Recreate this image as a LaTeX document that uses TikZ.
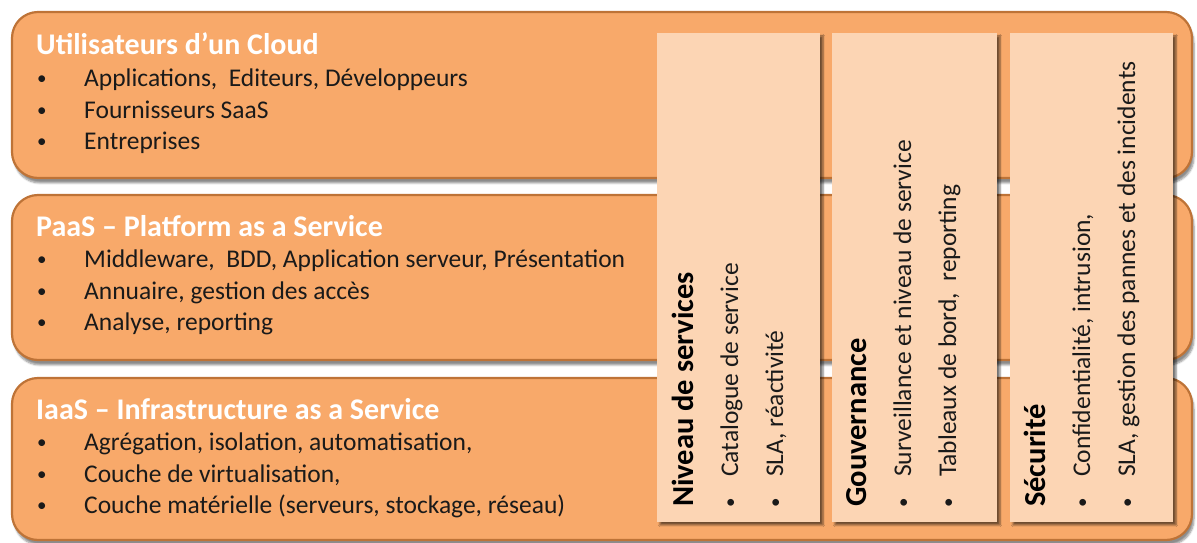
\documentclass[tikz,border=0pt]{standalone}
\usepackage{fontspec}
\setmainfont{Carlito}
\usetikzlibrary{shadows.blur}
\definecolor{bandfill}{HTML}{F8A96A}
\definecolor{bandline}{HTML}{BE7337}
\definecolor{panelfill}{HTML}{FCD5B4}
\definecolor{itemtext}{HTML}{1A1A1A}
\tikzset{
  band/.style={draw=bandline, line width=2.2pt, fill=bandfill, rounded corners=26pt,
    blur shadow={shadow xshift=2pt, shadow yshift=-5pt, shadow blur steps=6, shadow opacity=45}},
  panel/.style={fill=panelfill, draw=none,
    blur shadow={shadow xshift=3pt, shadow yshift=-3pt, shadow blur steps=4, shadow opacity=55}},
  bandtitle/.style={anchor=base west, inner sep=0pt, text=white, font=\fontsize{30}{34}\selectfont\bfseries},
  item/.style={anchor=base west, inner sep=0pt, text=itemtext, font=\fontsize{25.5}{29}\selectfont},
  dot/.style={anchor=base west, inner sep=0pt, text=itemtext, font=\fontsize{19}{22}\selectfont},
  ptitle/.style={anchor=base west, inner sep=0pt, rotate=90, text=black, font=\fontsize{30.5}{34}\selectfont\bfseries},
  pitem/.style={anchor=base west, inner sep=0pt, rotate=90, text=itemtext, font=\fontsize{25.5}{29}\selectfont},
  pdot/.style={dot, rotate=90},
}
\begin{document}
\begin{tikzpicture}[x=1pt,y=1pt]
\useasboundingbox (0,0) rectangle (1197,543);

% three horizontal layers
\path[band] (12,365) rectangle (1192,531);
\path[band] (12,183) rectangle (1192,348);
\path[band] (12,3) rectangle (1192,165);

% layer 1
\node[bandtitle] (t1) at (36,488) {Utilisateurs d’un Cloud};
\node[dot] (b11) at (37,458) {•};
\node[item] (i11) at (84,456) {Applications,\hspace{0.45em}Editeurs, Développeurs};
\node[dot] (b12) at (37,426) {•};
\node[item] (i12) at (84,424) {Fournisseurs SaaS};
\node[dot] (b13) at (37,395) {•};
\node[item] (i13) at (84,393) {Entreprises};

% layer 2
\node[bandtitle] (t2) at (36,306) {PaaS – Platform as a Service};
\node[dot] (b21) at (37,277) {•};
\node[item] (i21) at (84,275) {Middleware,\hspace{0.45em}BDD, Application serveur, Présentation};
\node[dot] (b22) at (37,245) {•};
\node[item] (i22) at (84,243) {Annuaire, gestion des accès};
\node[dot] (b23) at (37,214) {•};
\node[item] (i23) at (84,212) {Analyse, reporting};

% layer 3
\node[bandtitle] (t3) at (36,123) {IaaS – Infrastructure as a Service};
\node[dot] (b31) at (37,94) {•};
\node[item] (i31) at (84,92) {Agrégation, isolation, automatisation,};
\node[dot] (b32) at (37,62) {•};
\node[item] (i32) at (84,60) {Couche de virtualisation,};
\node[dot] (b33) at (37,31) {•};
\node[item] (i33) at (84,29) {Couche matérielle (serveurs, stockage, réseau)};

% cross-cutting vertical panels
\path[panel] (657,21) rectangle (820,510);
\path[panel] (832,21) rectangle (997,510);
\path[panel] (1010,21) rectangle (1173,510);

% panel 1
\node[ptitle] (p1) at (693,36) {Niveau de services};
\node[pdot] (pb11) at (736,35) {•};
\node[pitem] (pi11) at (738,66) {Catalogue de service};
\node[pdot] (pb12) at (781,35) {•};
\node[pitem] (pi12) at (783,66) {SLA, réactivité};

% panel 2
\node[ptitle] (p2) at (866,36) {Gouvernance};
\node[pdot] (pb21) at (909,35) {•};
\node[pitem] (pi21) at (911,66) {Surveillance et niveau de service};
\node[pdot] (pb22) at (954,35) {•};
\node[pitem] (pi22) at (956,66) {Tableaux de bord,\hspace{0.45em}reporting};

% panel 3
\node[ptitle] (p3) at (1045,36) {Sécurité};
\node[pdot] (pb31) at (1088,35) {•};
\node[pitem] (pi31) at (1090,66) {Confidentialité, intrusion,};
\node[pdot] (pb32) at (1133,35) {•};
\node[pitem] (pi32) at (1135,66) {SLA, gestion des pannes et des incidents};
\end{tikzpicture}
\end{document}
